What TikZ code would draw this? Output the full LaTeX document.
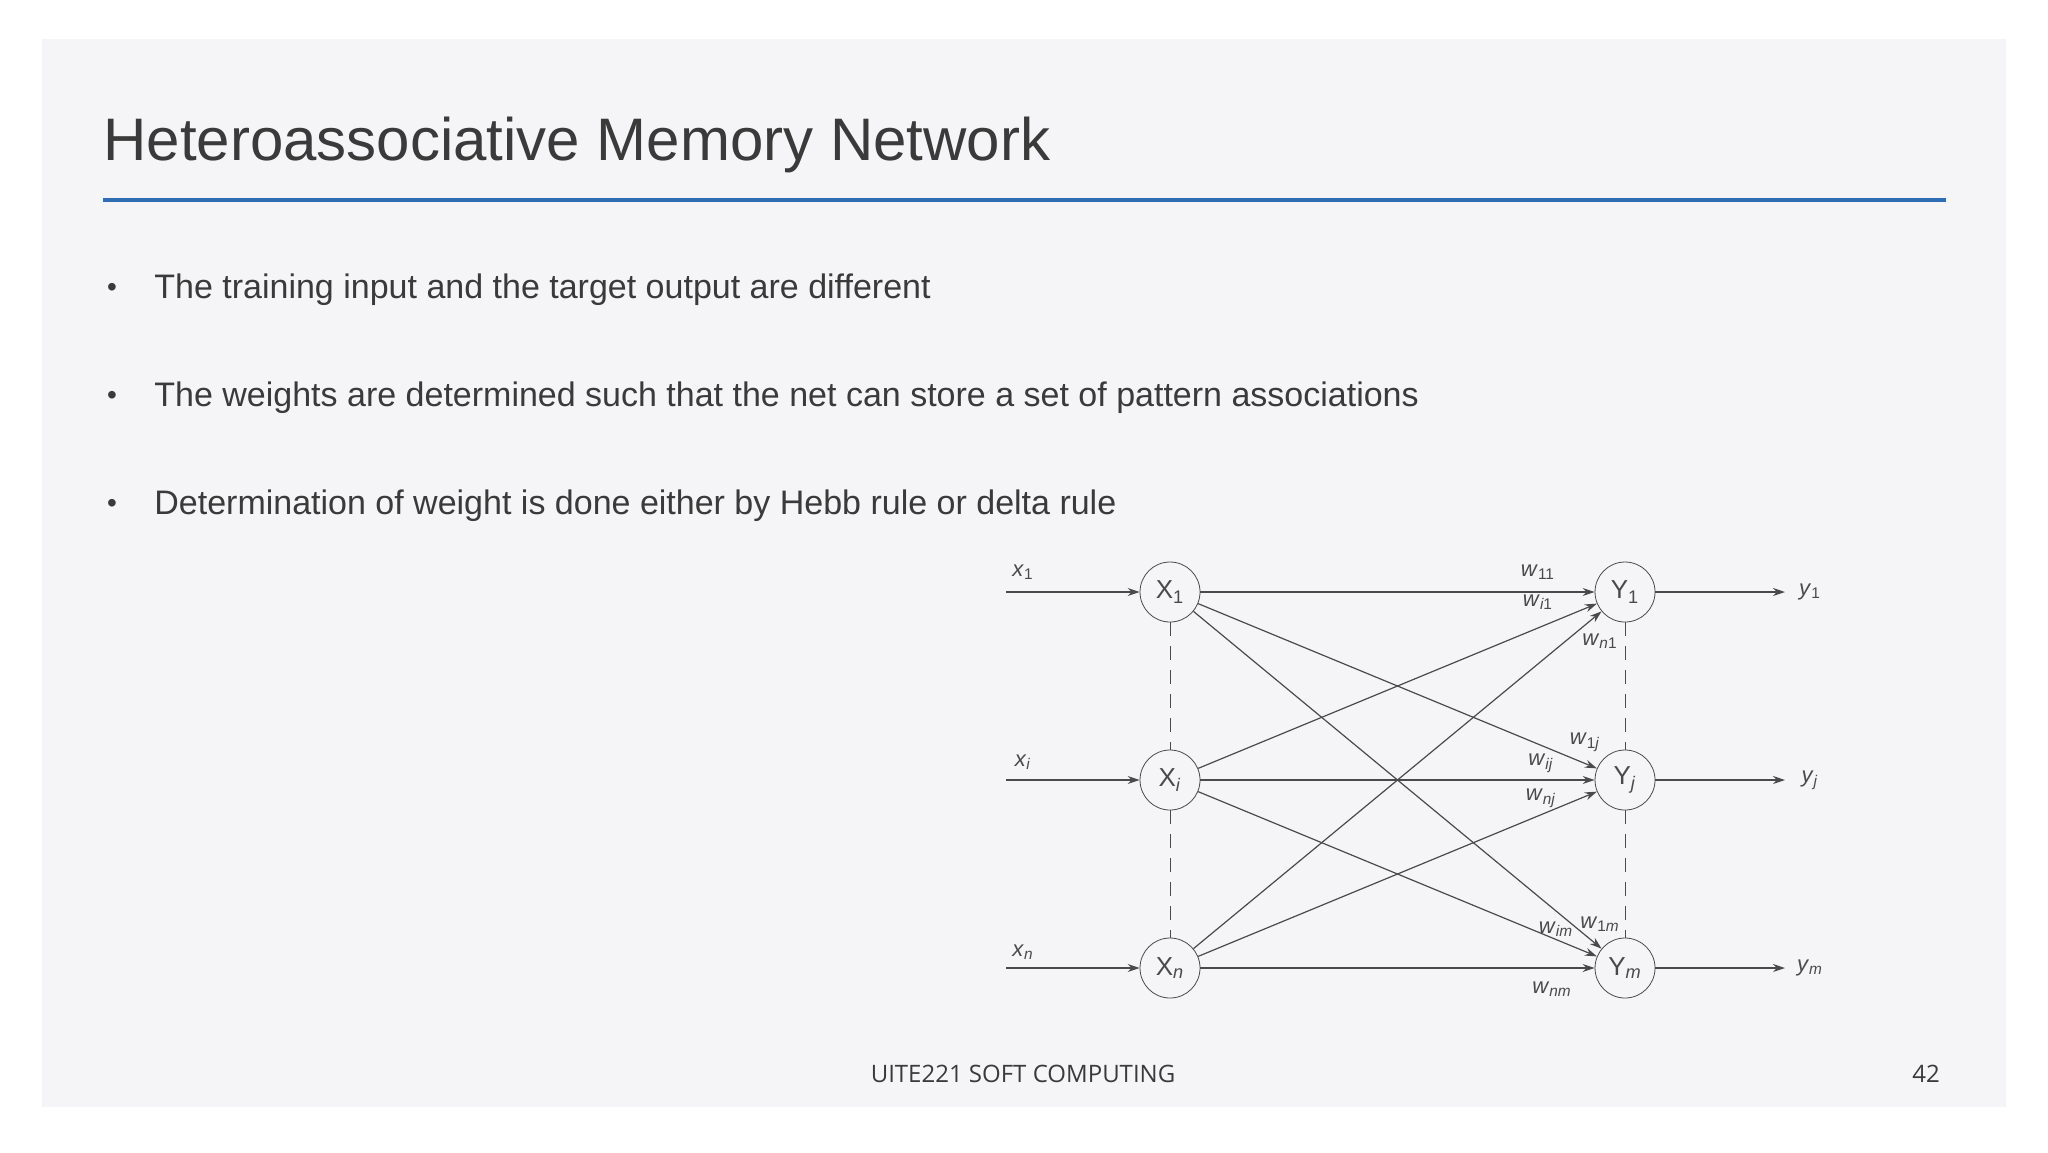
\documentclass[tikz,border=0pt]{standalone}
\usepackage{fontspec}
\setmainfont{Liberation Sans}
\newfontfamily\footfont{Open Sans}
\usetikzlibrary{arrows.meta}
\definecolor{panel}{HTML}{F5F4F6}
\definecolor{rule}{HTML}{2F6DB5}
\definecolor{ink}{HTML}{3A3A3A}
\definecolor{net}{HTML}{4A4A4A}
\newcommand{\vs}[2]{\textit{#1}\textsubscript{\textit{#2}}}
\begin{document}
\begin{tikzpicture}[x=0.5pt,y=-0.5pt,
  unit/.style={circle,draw=net,fill=panel,minimum size=30pt,inner sep=0pt,font=\fontsize{13}{13}\selectfont,text=net},
  conn/.style={draw=net,line width=0.6pt,-{Stealth[length=6pt,width=4pt]}},
  lab/.style={font=\fontsize{11}{11}\selectfont,text=net,inner sep=0pt},
  bul/.style={font=\fontsize{17}{17}\selectfont,text=ink,anchor=west,inner sep=0pt}]
\useasboundingbox (0,0) rectangle (2048,1152);
\fill[white] (0,0) rectangle (2048,1152);
\fill[panel] (42,39) rectangle (2006,1107);
\node[anchor=base west,inner sep=0pt,font=\fontsize{30}{30}\selectfont,text=ink] (title) at (103,160) {Heteroassociative Memory Network};
\draw[rule,line width=1.6pt] (103,200) -- (1946,200);
\node[bul] (b1) at (154,290) {The training input and the target output are different};
\node[bul] (b2) at (154,398) {The weights are determined such that the net can store a set of pattern associations};
\node[bul] (b3) at (154,506) {Determination of weight is done either by Hebb rule or delta rule};
\foreach \y/\n in {290/1,398/2,506/3} \node[bul,anchor=center,font=\fontsize{14}{14}\selectfont] (d\n) at (112,\y) {•};
% network
\node[unit] (X1) at (1170,592) {X\textsubscript{1}};
\node[unit] (Xi) at (1170,780) {X\textsubscript{\textit{i}}};
\node[unit] (Xn) at (1170,968) {X\textsubscript{\textit{n}}};
\node[unit] (Y1) at (1625,592) {Y\textsubscript{1}};
\node[unit] (Yj) at (1625,780) {Y\textsubscript{\textit{j}}};
\node[unit] (Ym) at (1625,968) {Y\textsubscript{\textit{m}}};
\foreach \a/\b in {X1/Xi,Xi/Xn,Y1/Yj,Yj/Ym}
  \draw[net,dashed,dash pattern=on 7pt off 5pt,line width=0.5pt] (\a) -- (\b);
\foreach \n/\y in {1/592,i/780,n/968}{
  \coordinate (in\n) at (1006,\y);
  \draw[conn] (in\n) -- (X\n);
}
\foreach \n/\y in {1/592,j/780,m/968}{
  \coordinate (out\n) at (1785,\y);
  \draw[conn] (Y\n) -- (out\n);
}
\foreach \a in {X1,Xi,Xn} \foreach \b in {Y1,Yj,Ym} \draw[conn] (\a) -- (\b);
\node[lab] (lx1) at (1023,572) {\vs{x}{\upshape 1}};
\node[lab] (lxi) at (1023,762) {\vs{x}{i}};
\node[lab] (lxn) at (1023,952) {\vs{x}{n}};
\node[lab] (ly1) at (1810,592) {\vs{y}{\upshape 1}};
\node[lab] (lyj) at (1810,780) {\vs{y}{j}};
\node[lab] (lym) at (1810,968) {\vs{y}{m}};
\node[lab] (w11) at (1538,572) {\vs{w}{\upshape 11}};
\node[lab] (wi1) at (1538,602) {\vs{w}{i\upshape 1}};
\node[lab] (wn1) at (1600,641) {\vs{w}{n\upshape 1}};
\node[lab] (w1j) at (1585,742) {\vs{w}{\upshape 1\itshape j}};
\node[lab] (wij) at (1541,763) {\vs{w}{ij}};
\node[lab] (wnj) at (1541,798) {\vs{w}{nj}};
\node[lab] (wim) at (1556,929) {\vs{w}{im}};
\node[lab] (w1m) at (1600,924) {\vs{w}{\upshape 1\itshape m}};
\node[lab] (wnm) at (1552,989) {\vs{w}{nm}};
\node[font=\footfont\fontsize{12}{12}\selectfont,text=ink] (foot) at (1023,1074) {UITE221 SOFT COMPUTING};
\node[font=\footfont\fontsize{12}{12}\selectfont,text=ink] (pg) at (1926,1074) {42};
\end{tikzpicture}
\end{document}
